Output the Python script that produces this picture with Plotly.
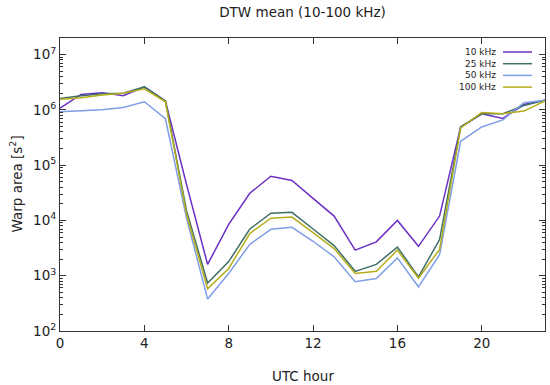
import plotly.graph_objects as go

hours = list(range(24))
labels = ["10 kHz", "25 kHz", "50 kHz", "100 kHz"]
colors = ["#6a2fc4", "#3f6f68", "#7f9fe6", "#b5ad1a"]

v10 = [1.08e6, 1.9e6, 2.05e6, 1.8e6, 2.6e6, 1.45e6, 4.5e4, 1.6e3, 8.5e3, 3.1e4, 6.3e4, 5.3e4,
       2.5e4, 1.2e4, 2.9e3, 4.1e3, 1.0e4, 3.4e3, 1.2e4, 4.9e5, 8.5e5, 7.0e5, 1.25e6, 1.5e6]
v25 = [1.6e6, 1.8e6, 1.95e6, 2.0e6, 2.6e6, 1.45e6, 1.5e4, 740, 1.8e3, 7.0e3, 1.35e4, 1.4e4,
       7.0e3, 3.5e3, 1.2e3, 1.6e3, 3.3e3, 950, 4.5e3, 4.9e5, 8.5e5, 8.5e5, 1.2e6, 1.5e6]
v50 = [9.2e5, 9.5e5, 1.0e6, 1.1e6, 1.4e6, 6.9e5, 1.1e4, 380, 1.1e3, 3.7e3, 6.9e3, 7.5e3,
       4.2e3, 2.2e3, 780, 890, 2.1e3, 630, 2.4e3, 2.7e5, 4.9e5, 6.6e5, 1.35e6, 1.5e6]
v100 = [1.55e6, 1.65e6, 1.85e6, 2.0e6, 2.4e6, 1.4e6, 1.3e4, 580, 1.35e3, 5.8e3, 1.1e4, 1.15e4,
        6.0e3, 3.1e3, 1.1e3, 1.2e3, 2.9e3, 900, 3.0e3, 4.7e5, 9.0e5, 8.5e5, 9.5e5, 1.45e6]
series = [v10, v25, v50, v100]

ytickvals = [1e2, 1e3, 1e4, 1e5, 1e6, 1e7]
yticktext = ["10<sup>2</sup>", "10<sup>3</sup>", "10<sup>4</sup>", "10<sup>5</sup>",
             "10<sup>6</sup>", "10<sup>7</sup>"]
xtickvals = [0, 4, 8, 12, 16, 20]

FONT = "DejaVu Sans"
TXT = "#222"
FW, FH = 550, 385
L, R, T, B = 60, 545, 38, 331
W, H = float(R - L), float(B - T)

fig = go.Figure()
for lab, col, vals in zip(labels, colors, series):
    fig.add_trace(go.Scatter(x=hours, y=vals, mode="lines", name=lab,
                             line=dict(color=col, width=1.5), showlegend=False))

# gnuplot-style legend (text then line sample), in paper coordinates
for i, (lab, col) in enumerate(zip(labels, colors)):
    py = 52 + 11.7 * i
    yp = (B - py) / H
    fig.add_annotation(x=(498 - L) / W, y=yp, xref="paper", yref="paper", text=lab,
                       showarrow=False, xanchor="right", yanchor="middle",
                       font=dict(family=FONT, size=9, color=TXT))
    fig.add_shape(type="line", xref="paper", yref="paper",
                  x0=(503 - L) / W, x1=(532 - L) / W, y0=yp, y1=yp,
                  line=dict(color=col, width=1.5))

# axis titles
fig.add_annotation(x=0.5, y=0, xref="paper", yref="paper", text="UTC hour",
                   showarrow=False, xanchor="center", yanchor="middle",
                   yshift=-(376 - B), font=dict(family=FONT, size=13.5, color=TXT))
fig.add_annotation(x=0, y=0.5, xref="paper", yref="paper", text="Warp area [s<sup>2</sup>]",
                   showarrow=False, xanchor="center", yanchor="middle", textangle=-90,
                   xshift=-(L - 16), font=dict(family=FONT, size=13.5, color=TXT))

axis_common = dict(showgrid=False, zeroline=False, showline=True, linecolor="#333",
                   linewidth=1, mirror="ticks", ticks="inside", tickcolor="#333",
                   ticklen=6, automargin=False,
                   tickfont=dict(family=FONT, size=13.5, color=TXT))
fig.update_xaxes(range=[0, 23], tickvals=xtickvals, **axis_common)
fig.update_yaxes(type="log", range=[2, 7.3], tickvals=ytickvals, ticktext=yticktext,
                 minor=dict(ticks="inside", ticklen=3, tickcolor="#333", dtick="D1"),
                 **axis_common)

fig.update_layout(
    width=FW, height=FH,
    margin=dict(l=L, r=FW - R, t=T, b=FH - B),
    paper_bgcolor="white", plot_bgcolor="white",
    title=dict(text="DTW mean (10-100 kHz)", x=302.5 / FW, xanchor="center",
               y=1 - 12 / FH, yanchor="middle",
               font=dict(family=FONT, size=13.5, color=TXT)),
)
fig.write_html("out.html", config={"displayModeBar": False},
               post_script="document.body.style.margin='0';document.body.style.overflow='hidden';")
